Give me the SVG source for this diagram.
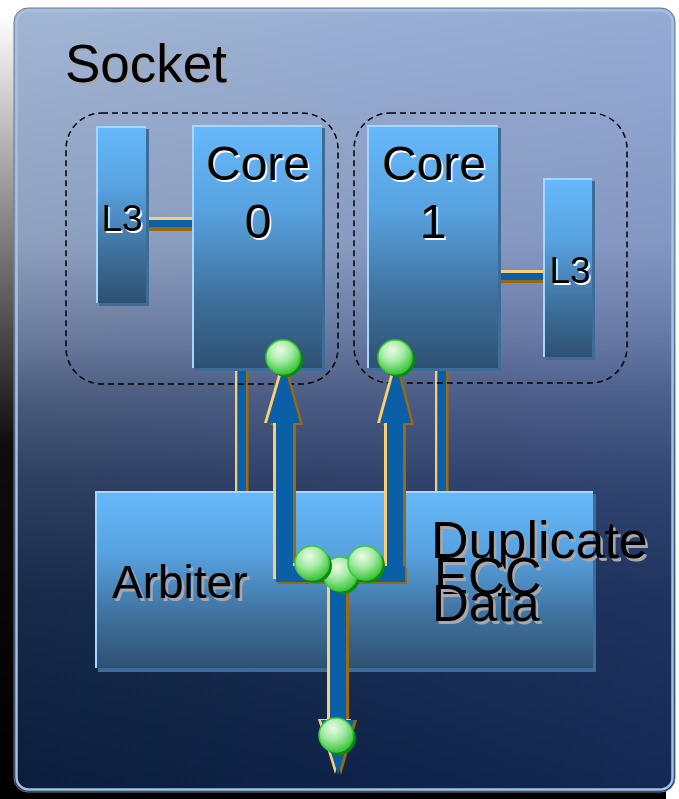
<svg xmlns="http://www.w3.org/2000/svg" width="679" height="799" viewBox="0 0 679 799">
  <defs>
    <linearGradient id="shade" x1="0" y1="0" x2="0" y2="1">
      <stop offset="0" stop-color="#000" stop-opacity="0"/>
      <stop offset="0.25" stop-color="#000" stop-opacity="0.45"/>
      <stop offset="0.55" stop-color="#000" stop-opacity="0.95"/>
      <stop offset="1" stop-color="#000" stop-opacity="1"/>
    </linearGradient>
    <linearGradient id="socketFill" x1="0" y1="0" x2="0" y2="1">
      <stop offset="0" stop-color="#a2b6d4"/>
      <stop offset="0.3" stop-color="#8e9fbf"/>
      <stop offset="0.42" stop-color="#6b7b9d"/>
      <stop offset="0.5" stop-color="#4b5b7d"/>
      <stop offset="0.6" stop-color="#2f3f61"/>
      <stop offset="0.75" stop-color="#172a4a"/>
      <stop offset="1" stop-color="#0a1d3c"/>
    </linearGradient>
    <linearGradient id="socketTint" x1="0" y1="0" x2="1" y2="0">
      <stop offset="0" stop-color="#4060c8" stop-opacity="0"/>
      <stop offset="1" stop-color="#4a6ad8" stop-opacity="0.15"/>
    </linearGradient>
    <linearGradient id="boxFill" x1="0" y1="0" x2="0" y2="1">
      <stop offset="0" stop-color="#66b9fb"/>
      <stop offset="0.35" stop-color="#58a2e0"/>
      <stop offset="0.7" stop-color="#3f729e"/>
      <stop offset="1" stop-color="#2e5172"/>
    </linearGradient>
    <radialGradient id="ballFill" cx="0.42" cy="0.3" r="0.75">
      <stop offset="0" stop-color="#eafbe8"/>
      <stop offset="0.45" stop-color="#a6eaa4"/>
      <stop offset="1" stop-color="#2cc22c"/>
    </radialGradient>
    <g id="ball">
      <circle cx="3" cy="3" r="17" fill="#0b8a14"/>
      <circle cx="0" cy="0" r="17" fill="url(#ballFill)" stroke="#3cc83c" stroke-width="1.5"/>
    </g>
  </defs>
  <style>
    .txt { font-family: "Liberation Sans", Arial, sans-serif; fill: #000; }
    .glow { font-family: "Liberation Sans", Arial, sans-serif; fill: #ffffff; }
    .drop { font-family: "Liberation Sans", Arial, sans-serif; fill: #a6a8ae; }
    .big { font-size: 48px; }
    .mid { font-size: 37px; }
    .box-shadow { fill: #3c6c97; }
    .box { fill: url(#boxFill); }
    .box-edge { fill: none; stroke: #a4d6ff; stroke-width: 2; }
    .group { fill: none; stroke: #000; stroke-width: 1.5; stroke-dasharray: 6 4; }
    .tan { fill: #f8cf74; }
    .pipe { fill: #0a5fa6; }
    .brown { fill: #9b6a0e; }
  </style>

  <!-- page and socket frame -->
  <rect x="0" y="0" width="679" height="799" fill="#ffffff"/>
  <rect x="0" y="14" width="666" height="785" fill="url(#shade)"/>
  <g id="socket">
    <rect x="14" y="8" width="661" height="784" rx="14" fill="url(#socketFill)" stroke="#6f7a88" stroke-width="1"/>
    <rect x="14" y="8" width="661" height="784" rx="14" fill="url(#socketTint)"/>
    <rect x="16.5" y="10.5" width="656" height="779" rx="12" fill="none" stroke="#a3c2e4" stroke-width="2.5"/>
    <text class="drop" x="67" y="84" font-size="53">Socket</text>
    <text class="txt" x="65" y="82" font-size="53">Socket</text>
  </g>

  <!-- connectors: thin links and the block arrows -->
  <g id="connectors">
    <!-- L3 to core links -->
    <rect class="tan" x="146" y="217" width="46" height="3"/>
    <rect class="pipe" x="146" y="220" width="46" height="7"/>
    <rect class="brown" x="146" y="227" width="46" height="4"/>
    <rect class="tan" x="498" y="270" width="45" height="3"/>
    <rect class="pipe" x="498" y="273" width="45" height="7"/>
    <rect class="brown" x="498" y="280" width="45" height="3"/>
    <!-- core to arbiter links -->
    <rect class="tan" x="235" y="368" width="2.5" height="123"/>
    <rect class="pipe" x="237.5" y="368" width="8.5" height="123"/>
    <rect class="brown" x="246" y="368" width="2.5" height="123"/>
    <rect class="tan" x="435" y="368" width="2.5" height="123"/>
    <rect class="pipe" x="437.5" y="368" width="8.5" height="123"/>
    <rect class="brown" x="446" y="368" width="2.5" height="123"/>
  </g>

  <!-- L3 and cores -->
  <g id="l3-left">
    <rect class="box-shadow" x="99" y="129" width="50" height="177"/>
    <rect class="box" x="96" y="126" width="50" height="177"/>
    <path class="box-edge" d="M97,303 V127 H146"/>
    <text class="glow mid" x="123.5" y="233" text-anchor="middle">L3</text>
    <text class="txt mid" x="122" y="231" text-anchor="middle">L3</text>
  </g>
  <g id="core0">
    <rect class="box-shadow" x="195" y="128" width="130" height="243"/>
    <rect class="box" x="192" y="125" width="130" height="243"/>
    <path class="box-edge" d="M193,368 V126 H322"/>
    <text class="glow big" x="259.5" y="181.5" text-anchor="middle">Core</text>
    <text class="txt big" x="258" y="180" text-anchor="middle">Core</text>
    <text class="glow big" x="259.5" y="239.5" text-anchor="middle">0</text>
    <text class="txt big" x="258" y="238" text-anchor="middle">0</text>
  </g>
  <g id="core1">
    <rect class="box-shadow" x="370" y="128" width="131" height="243"/>
    <rect class="box" x="367" y="125" width="131" height="243"/>
    <path class="box-edge" d="M368,368 V126 H498"/>
    <text class="glow big" x="435.5" y="181.5" text-anchor="middle">Core</text>
    <text class="txt big" x="434" y="180" text-anchor="middle">Core</text>
    <text class="glow big" x="434.5" y="239.5" text-anchor="middle">1</text>
    <text class="txt big" x="433" y="238" text-anchor="middle">1</text>
  </g>
  <g id="l3-right">
    <rect class="box-shadow" x="546" y="181" width="49" height="179"/>
    <rect class="box" x="543" y="178" width="49" height="179"/>
    <path class="box-edge" d="M544,357 V179 H592"/>
    <text class="glow mid" x="571.5" y="285" text-anchor="middle">L3</text>
    <text class="txt mid" x="570" y="283" text-anchor="middle">L3</text>
  </g>

  <!-- dashed core/L3 pairs -->
  <g id="pair0"><rect class="group" x="66" y="113" width="272" height="271" rx="36"/></g>
  <g id="pair1"><rect class="group" x="354" y="113" width="273" height="270" rx="36"/></g>

  <!-- arbiter block -->
  <g id="arbiter">
    <rect class="box-shadow" x="98" y="494" width="498" height="178"/>
    <rect class="box" x="95" y="491" width="498" height="177"/>
    <path class="box-edge" d="M96,668 V492 H593"/>
    <text class="drop" x="114.5" y="600.5" font-size="46">Arbiter</text>
    <text class="txt" x="112" y="598" font-size="46">Arbiter</text>
    <text class="drop" x="433.5" y="560.5" font-size="52">Duplicate</text>
    <text class="txt" x="431" y="558" font-size="52">Duplicate</text>
    <text class="drop" x="436.5" y="596.5" font-size="51">ECC</text>
    <text class="txt" x="434" y="594" font-size="51">ECC</text>
    <text class="drop" x="434.5" y="623.5" font-size="51">Data</text>
    <text class="txt" x="432" y="621" font-size="51">Data</text>
  </g>

  <!-- block arrows: brown relief, tan highlight, blue body -->
  <g id="arrows">
    <g class="brown">
      <path transform="translate(3,2)" d="M276,566 V423 H267 L284,365 L300,423 H293 V566 Z"/>
      <path transform="translate(3,2)" d="M387,566 V423 H380 L396,365 L411,423 H403 V566 Z"/>
      <path transform="translate(2,2)" d="M276,566 H405 V582 H276 Z"/>
      <path transform="translate(3,0)" d="M330,582 V720 H321 L338,775 L354,720 H346 V582 Z"/>
    </g>
    <g class="tan">
      <path transform="translate(-3,0)" d="M276,566 V423 H267 L284,365 L300,423 H293 V566 Z"/>
      <path transform="translate(-3,0)" d="M387,566 V423 H380 L396,365 L411,423 H403 V566 Z"/>
      <path transform="translate(-3,-3)" d="M276,566 H405 V582 H276 Z"/>
      <path transform="translate(-3,-1)" d="M330,582 V720 H321 L338,775 L354,720 H346 V582 Z"/>
    </g>
    <g class="pipe">
      <path d="M276,566 V423 H267 L284,365 L300,423 H293 V566 Z"/>
      <path d="M387,566 V423 H380 L396,365 L411,423 H403 V566 Z"/>
      <path d="M276,566 H405 V582 H276 Z"/>
      <path d="M330,582 V720 H321 L338,775 L354,720 H346 V582 Z"/>
    </g>
  </g>

  <!-- green tokens -->
  <g id="tokens">
    <use href="#ball" x="283" y="357"/>
    <use href="#ball" x="395" y="357"/>
    <use href="#ball" x="340" y="574"/>
    <use href="#ball" x="312" y="563"/>
    <use href="#ball" x="365" y="563"/>
    <use href="#ball" x="336" y="735"/>
  </g>
</svg>
